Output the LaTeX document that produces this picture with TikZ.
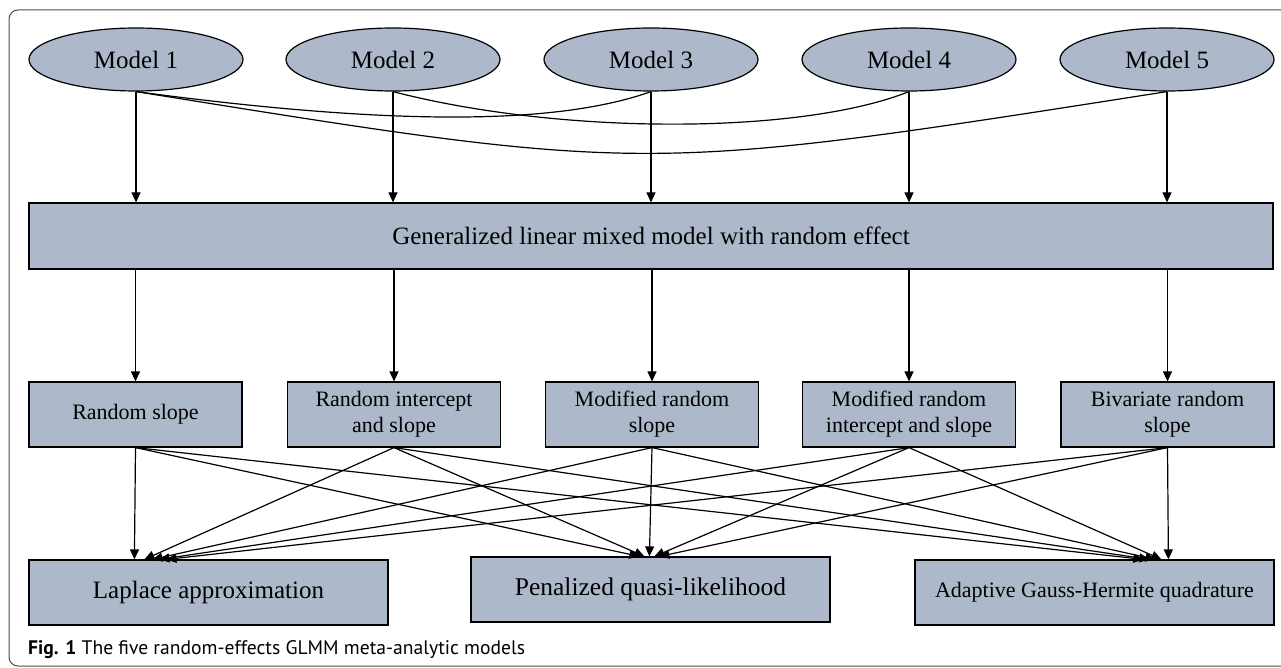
\documentclass[tikz,border=0pt]{standalone}
\usepackage{fontspec}
\setmainfont{Liberation Serif}
\newfontfamily\capfont{PT Sans}
\usetikzlibrary{arrows.meta,shapes.geometric,calc}
\definecolor{boxfill}{RGB}{173,185,202}
\begin{document}
\begin{tikzpicture}[x=1pt,y=-1pt,
  model/.style={ellipse, draw, fill=boxfill, line width=1.2pt, minimum width=214pt, minimum height=63pt, inner sep=0pt, font=\fontsize{25}{30}\selectfont},
  rbox/.style={rectangle, draw, fill=boxfill, line width=1.2pt, minimum width=213pt, minimum height=65pt, inner sep=0pt, align=center, font=\fontsize{22}{26}\selectfont},
  bbox/.style={rbox, minimum width=359pt, minimum height=65pt},
  conn/.style={line width=1.2pt, -{Triangle[length=10pt,width=9pt]}},
  link/.style={line width=1.2pt},
]
\useasboundingbox (0,0) rectangle (1281,668);
\draw[line width=1pt, draw=black!70, rounded corners=9pt] (1300,10) -- (9,10) -- (9,666) -- (1300,666);

% top ellipses
\node[model] (m1) at (136,59.5) {Model 1};
\node[model] (m2) at (393,59.5) {Model 2};
\node[model] (m3) at (651,59.5) {Model 3};
\node[model] (m4) at (909,59.5) {Model 4};
\node[model] (m5) at (1167,59.5) {Model 5};

% GLMM box
\node[rbox, minimum width=1244pt, minimum height=66pt, font=\fontsize{25}{30}\selectfont] (glmm) at (651,236) {Generalized linear mixed model with random effect};

% second row
\node[rbox] (s1) at (135.5,414.5) {Random slope};
\node[rbox] (s2) at (394,414.5) {Random intercept\\and slope};
\node[rbox] (s3) at (652,414.5) {Modified random\\slope};
\node[rbox] (s4) at (909,414.5) {Modified random\\intercept and slope};
\node[rbox] (s5) at (1167.5,414.5) {Bivariate random\\slope};

% bottom row
\node[bbox, font=\fontsize{25}{30}\selectfont] (lap) at (208.5,592.5) {Laplace approximation};
\node[bbox, font=\fontsize{25.5}{30}\selectfont] (pql) at (650.5,589.5) {Penalized quasi-likelihood};
\node[bbox] (agh) at (1094.5,592.5) {Adaptive Gauss-Hermite quadrature};

% curved links between models
\draw[link] (m1.south) .. controls (400,127) and (560,124) .. (m3.south);
\draw[link] (m1.south) .. controls (650,174) and (640,174) .. (m5.south);
\draw[link] (m2.south) .. controls (560,135) and (800,135) .. (m4.south);

% models to GLMM
\foreach \i in {1,...,5}{
  \draw[conn] (m\i.south) -- (m\i.south |- glmm.north);
  \draw[conn] (glmm.south -| s\i.north) -- (s\i.north);
}

% second row to bottom row
\foreach \i/\a/\b/\c in {1/106/169/229, 2/116/174/235, 3/124/179/241, 4/131/184/247, 5/138/189/254}{
  \draw[conn] (s\i.south) -- ([xshift=\a pt]lap.north west);
  \draw[conn] (s\i.south) -- ([xshift=\b pt]pql.north west);
  \draw[conn] (s\i.south) -- ([xshift=\c pt]agh.north west);
}

% caption
\node[anchor=west, inner sep=0pt, font=\capfont\fontsize{19.6}{22}\selectfont] (cap) at (28,650) {\textbf{Fig. 1} The five random-effects GLMM meta-analytic models};
\end{tikzpicture}
\end{document}
